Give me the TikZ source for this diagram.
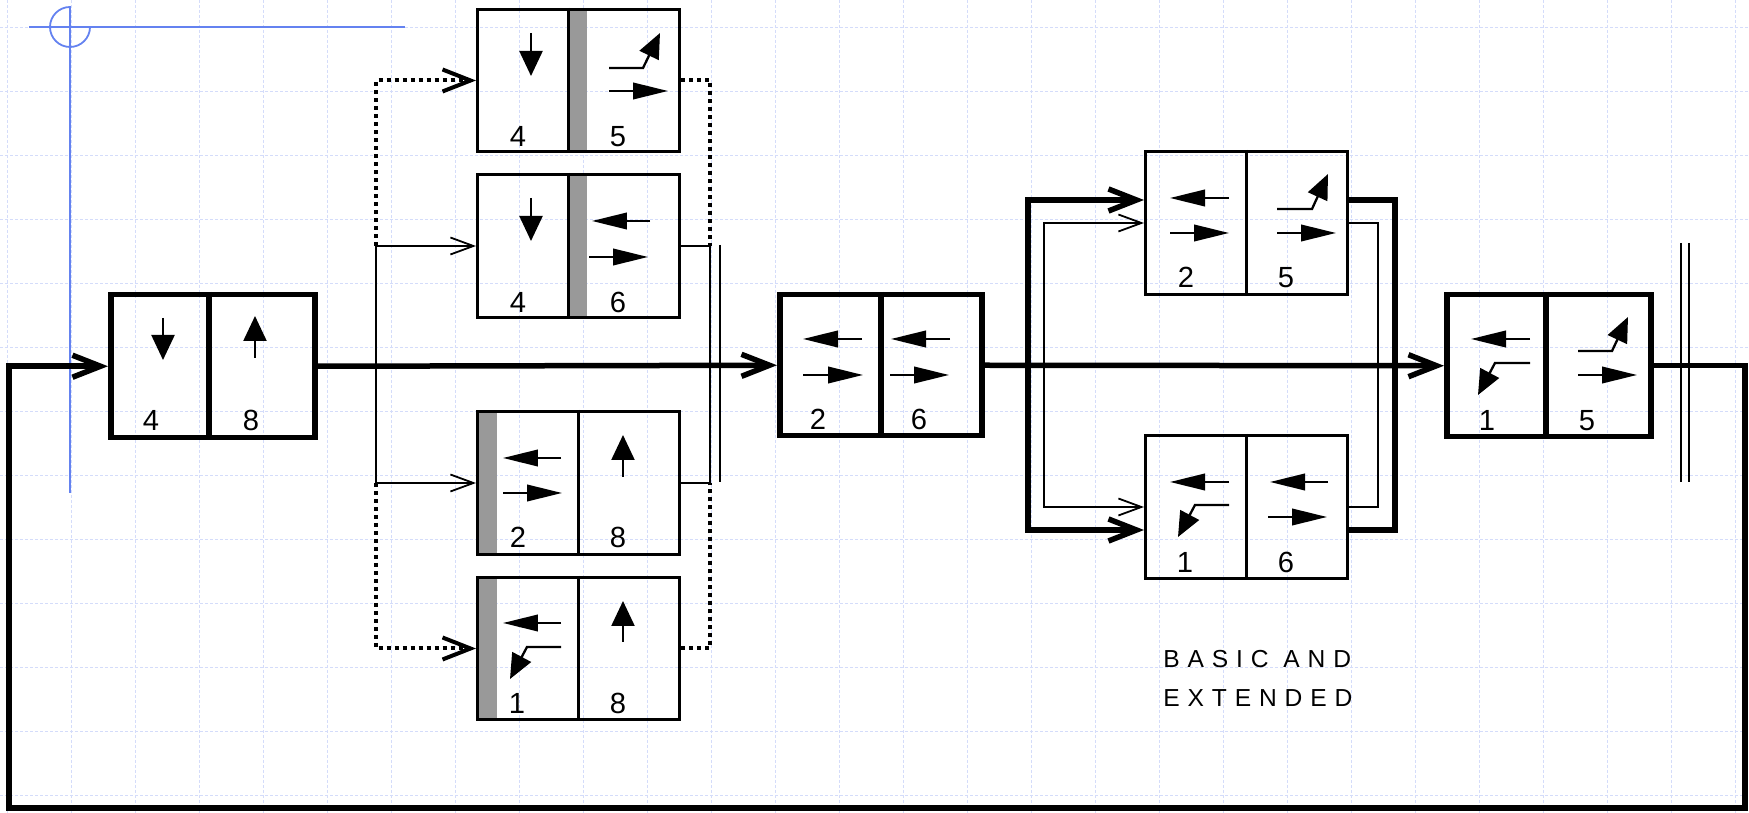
\documentclass[tikz,border=0pt]{standalone}
\usepackage{fontspec}
\setmainfont{Liberation Sans}
\usetikzlibrary{arrows.meta}
\newlength\pxu
\setlength\pxu{0.02cm}
\definecolor{gridblue}{RGB}{212,220,250}
\definecolor{guideblue}{RGB}{100,130,240}
\definecolor{bargray}{RGB}{153,153,153}

\tikzset{
  valve/.style={draw, rectangle, inner sep=0pt, minimum width=202\pxu, minimum height=143\pxu, anchor=north west},
  heavyline/.style={line width=5.5\pxu},
  lightline/.style={line width=3\pxu},
  thinline/.style={line width=1.8\pxu},
  dotline/.style={line width=4\pxu, dash pattern=on 4\pxu off 4\pxu},
  gridline/.style={gridblue, line width=1\pxu, dash pattern=on 3\pxu off 2\pxu},
  guide/.style={guideblue, line width=1.8\pxu},
  num/.style={font=\fontsize{16.6}{18}\selectfont, anchor=base, inner sep=0pt},
  hsym/.style={line width=2.3\pxu, -{Triangle[length=0.7cm, width=0.33cm]}},
  vsym/.style={line width=2.3\pxu, -{Triangle[length=0.5cm, width=0.46cm]}},
  ssym/.style={line width=2.3\pxu, -{Triangle[length=0.5cm, width=0.42cm]}},
  bigbarb/.style={-{Straight Barb[length=0.56cm, width=0.44cm]}},
  smallbarb/.style={-{Straight Barb[length=0.46cm, width=0.34cm]}},
}

\begin{document}
\begin{tikzpicture}[x=\pxu, y=-\pxu]
  \useasboundingbox (0,0) rectangle (1749,813);

  % background grid
  \foreach \gx in {0,...,27}
    \draw[gridline] (7+64*\gx,0) -- (7+64*\gx,813);
  \foreach \gy in {0,...,12}
    \draw[gridline] (0,28+64*\gy) -- (1749,28+64*\gy);

  % origin guides
  \draw[guide] (29,27) -- (405,27);
  \draw[guide] (70,6) -- (70,493);
  \draw[guide] (70,7) arc[start angle=270, end angle=0, radius=20];

  % gray bars
  \fill[bargray] (568,8) rectangle (587,150);
  \fill[bargray] (568,173) rectangle (587,316);
  \fill[bargray] (476,410) rectangle (497,553);
  \fill[bargray] (476,576) rectangle (497,718);

  % valves
  \node[valve, heavyline, minimum width=204\pxu] (A) at (108,292) {};
  \node[valve, lightline, minimum height=142\pxu] (T1) at (476,8) {};
  \node[valve, lightline] (T2) at (476,173) {};
  \node[valve, lightline] (T3) at (476,410) {};
  \node[valve, lightline, minimum height=142\pxu] (T4) at (476,576) {};
  \node[valve, heavyline, minimum height=141\pxu] (B) at (777,292) {};
  \node[valve, lightline] (C1) at (1144,150) {};
  \node[valve, lightline] (C2) at (1144,434) {};
  \node[valve, heavyline, minimum width=204\pxu, minimum height=142\pxu] (D) at (1444,292) {};

  % dividers
  \draw[heavyline] ([xshift=101\pxu]A.north west) -- ([xshift=101\pxu]A.south west);
  \draw[lightline] ([xshift=92\pxu]T1.north west) -- ([xshift=92\pxu]T1.south west);
  \draw[lightline] ([xshift=92\pxu]T2.north west) -- ([xshift=92\pxu]T2.south west);
  \draw[lightline] (T3.north) -- (T3.south);
  \draw[lightline] (T4.north) -- (T4.south);
  \draw[heavyline] (B.north) -- (B.south);
  \draw[lightline] (C1.north) -- (C1.south);
  \draw[lightline] (C2.north) -- (C2.south);
  \draw[heavyline] ([xshift=102\pxu]D.north west) -- ([xshift=102\pxu]D.south west);

  % port numbers
  \node[num] (nA1) at (151,431) {4};
  \node[num] (nA2) at (251,431) {8};
  \node[num] (nT11) at (518,147) {4};
  \node[num] (nT12) at (618,147) {5};
  \node[num] (nT21) at (518,313) {4};
  \node[num] (nT22) at (618,313) {6};
  \node[num] (nT31) at (518,548) {2};
  \node[num] (nT32) at (618,548) {8};
  \node[num] (nT41) at (517,714) {1};
  \node[num] (nT42) at (618,714) {8};
  \node[num] (nB1) at (818,430) {2};
  \node[num] (nB2) at (919,430) {6};
  \node[num] (nC11) at (1186,288) {2};
  \node[num] (nC12) at (1286,288) {5};
  \node[num] (nC21) at (1185,573) {1};
  \node[num] (nC22) at (1286,573) {6};
  \node[num] (nD1) at (1487,431) {1};
  \node[num] (nD2) at (1587,431) {5};

  % flow symbols
  \draw[vsym] (163,318) -- (163,360);
  \draw[vsym] (255,358) -- (255,316);
  \draw[vsym] (531,33) -- (531,76);
  \draw[ssym] (609,68) -- (643,68) -- (660,33);
  \draw[hsym] (609,91) -- (668,91);
  \draw[vsym] (531,198) -- (531,241);
  \draw[hsym] (650,221) -- (592,221);
  \draw[hsym] (589,257) -- (648,257);
  \draw[hsym] (561,458) -- (503,458);
  \draw[hsym] (503,493) -- (562,493);
  \draw[vsym] (623,477) -- (623,435);
  \draw[hsym] (561,623) -- (503,623);
  \draw[ssym] (561,647) -- (527,647) -- (510,679);
  \draw[vsym] (623,642) -- (623,601);
  \draw[hsym] (862,339) -- (803,339);
  \draw[hsym] (803,375) -- (863,375);
  \draw[hsym] (950,339) -- (891,339);
  \draw[hsym] (890,375) -- (949,375);
  \draw[hsym] (1229,198) -- (1170,198);
  \draw[hsym] (1170,233) -- (1229,233);
  \draw[ssym] (1277,209) -- (1312,209) -- (1328,174);
  \draw[hsym] (1277,233) -- (1336,233);
  \draw[hsym] (1229,482) -- (1170,482);
  \draw[ssym] (1229,505) -- (1195,505) -- (1178,537);
  \draw[hsym] (1328,482) -- (1270,482);
  \draw[hsym] (1268,517) -- (1327,517);
  \draw[hsym] (1530,339) -- (1471,339);
  \draw[ssym] (1530,363) -- (1495,363) -- (1478,395);
  \draw[ssym] (1578,351) -- (1612,351) -- (1628,317);
  \draw[hsym] (1578,375) -- (1637,375);

  % main line and return
  \coordinate (retR) at (1745,808);
  \coordinate (retL) at (9,808);
  \draw[heavyline, bigbarb] (A.east) -- (B.west);
  \draw[heavyline, bigbarb] (B.east) -- (D.west);
  \draw[heavyline, bigbarb] (D.east) -| (retR) -- (retL) |- (A.west);

  % parallel branch
  \coordinate (splitL) at (376,363);
  \coordinate (joinR) at (710,363);
  \draw[thinline, smallbarb] (splitL) |- (T2.west);
  \draw[thinline, smallbarb] (splitL) |- (T3.west);
  \draw[dotline, bigbarb] (splitL |- T2.west) |- (T1.west);
  \draw[dotline, bigbarb] (splitL |- T3.west) |- (T4.west);
  \draw[thinline] (T2.east) -| (joinR);
  \draw[thinline] (T3.east) -| (joinR);
  \draw[dotline] (T1.east) -| (joinR |- T2.east);
  \draw[dotline] (T4.east) -| (joinR |- T3.east);
  \draw[thinline] (720,245) -- (720,482);

  % bypass loops
  \coordinate (bypassL) at (1028,363);
  \coordinate (bypassR) at (1395,363);
  \coordinate (pilotL) at (1044,363);
  \coordinate (pilotR) at (1378,363);
  \draw[heavyline, bigbarb] (bypassL) |- ([yshift=23\pxu]C1.west);
  \draw[heavyline, bigbarb] (bypassL) |- ([yshift=-23\pxu]C2.west);
  \draw[heavyline] ([yshift=23\pxu]C1.east) -| (bypassR);
  \draw[heavyline] ([yshift=-23\pxu]C2.east) -| (bypassR);
  \draw[thinline, smallbarb] (pilotL) |- (C1.west);
  \draw[thinline, smallbarb] (pilotL) |- (C2.west);
  \draw[thinline] (C1.east) -| (pilotR);
  \draw[thinline] (C2.east) -| (pilotR);

  % end marks
  \draw[thinline] (1681,243) -- (1681,482);
  \draw[thinline] (1689,243) -- (1689,482);

  \node[font=\fontsize{14}{22.1}\selectfont\addfontfeature{LetterSpace=32}, align=left, anchor=north west, inner sep=0pt] (caption) at (1163,650) {BASIC AND\\EXTENDED};
\end{tikzpicture}
\end{document}
